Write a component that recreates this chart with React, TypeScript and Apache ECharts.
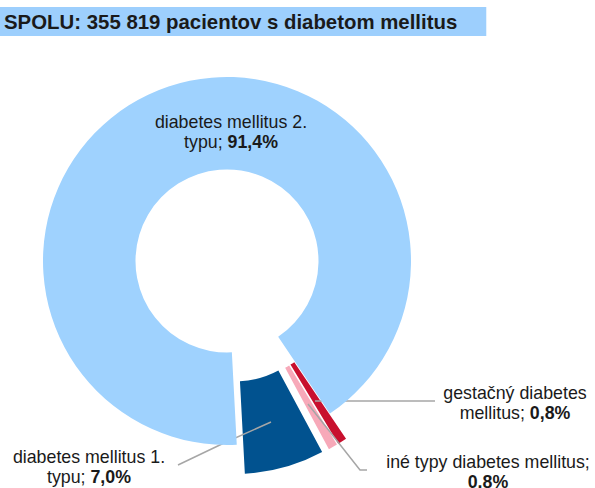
import React, { useEffect, useRef } from 'react';
import * as echarts from 'echarts';

const titleText = 'SPOLU: 355 819 pacientov s diabetom mellitus';
const categories = [
  'gestačný diabetes mellitus',
  'iné typy diabetes mellitus',
  'diabetes mellitus 1. typu',
  'diabetes mellitus 2. typu',
];
const shares = [0.8, 0.8, 7.0, 91.4];
const shareLabels = ['0,8%', '0.8%', '7,0%', '91,4%'];
const labelPrefixes = [
  'gestačný diabetes\nmellitus; ',
  'iné typy diabetes mellitus;\n',
  'diabetes mellitus 1.\ntypu; ',
  'diabetes mellitus 2.\ntypu; ',
];
const explodeOffsets = [30, 30, 30, 0];
const colors = ['#c8102e', '#f7a9b9', '#01528f', '#9fd2fe'];

const FONT = '"Liberation Sans", Arial, sans-serif';
const CX = 227;
const CY = 261;
const START = -56;

// label placement (layout only)
const labelPlacement: Record<number, { x: number; y: number; line?: number[][] }> = {
  0: { x: 515, y: 403, line: [[315, 401], [375, 401], [435, 401]] },
  1: { x: 488, y: 472, line: [[308, 404], [360, 470], [367, 470]] },
  2: { x: 89, y: 467, line: [[271, 422], [224, 443], [178, 465]] },
  3: { x: 231, y: 132 },
};

export default function App() {
  const ref = useRef<HTMLDivElement>(null);
  useEffect(() => {
    if (!ref.current) return;
    const chart = echarts.init(ref.current, undefined, { renderer: 'svg' });
    const total = shares.reduce((a, b) => a + b, 0);
    const last = categories.length - 1;
    let cum = 0;
    const series = categories.map((_, k) => {
      const mid = START - ((cum + shares[k] / 2) / total) * 360;
      cum += shares[k];
      const rad = (mid * Math.PI) / 180;
      const off = explodeOffsets[k];
      const labelsHere = k === last;
      return {
        type: 'pie',
        z: labelsHere ? 5 : 2,
        center: [CX + off * Math.cos(rad), CY - off * Math.sin(rad)],
        radius: [91.5, 184],
        startAngle: START,
        clockwise: true,
        avoidLabelOverlap: false,
        silent: true,
        emphasis: { disabled: true },
        itemStyle: { borderWidth: 0 },
        label: {
          show: labelsHere,
          position: 'outside',
          fontFamily: FONT,
          fontSize: 17.8,
          lineHeight: 20.5,
          color: '#1a1a1a',
          align: 'center',
          formatter: (p: any) => labelPrefixes[p.dataIndex] + '{b|' + shareLabels[p.dataIndex] + '}',
          rich: {
            b: { fontFamily: FONT, fontSize: 17.8, lineHeight: 20.5, fontWeight: 'bold', color: '#1a1a1a' },
          },
        },
        labelLine: { show: labelsHere, lineStyle: { color: '#a6a6a6', width: 1.5 } },
        labelLayout: (params: any) => {
          const pl = labelPlacement[params.dataIndex];
          const out: any = { x: pl.x, y: pl.y, align: 'center', verticalAlign: 'middle' };
          if (pl.line) out.labelLinePoints = pl.line;
          return out;
        },
        data: categories.map((name, i) => ({
          name,
          value: shares[i],
          itemStyle: { color: i === k ? colors[i] : 'rgba(0,0,0,0)' },
          label: { show: labelsHere },
          labelLine: { show: labelsHere && !!labelPlacement[i].line },
        })),
      };
    });
    chart.setOption({
      animation: false,
      title: {
        text: titleText,
        left: 0,
        top: 7,
        padding: [4, 29, 4, 4],
        backgroundColor: '#9dcffd',
        textStyle: { fontFamily: FONT, fontSize: 20.4, fontWeight: 'bold', color: '#1a1a1a', lineHeight: 21 },
      },
      series,
    });
    return () => chart.dispose();
  }, []);
  return <div ref={ref} style={{ position: 'absolute', left: 0, top: 0, width: 595, height: 488 }} />;
}
